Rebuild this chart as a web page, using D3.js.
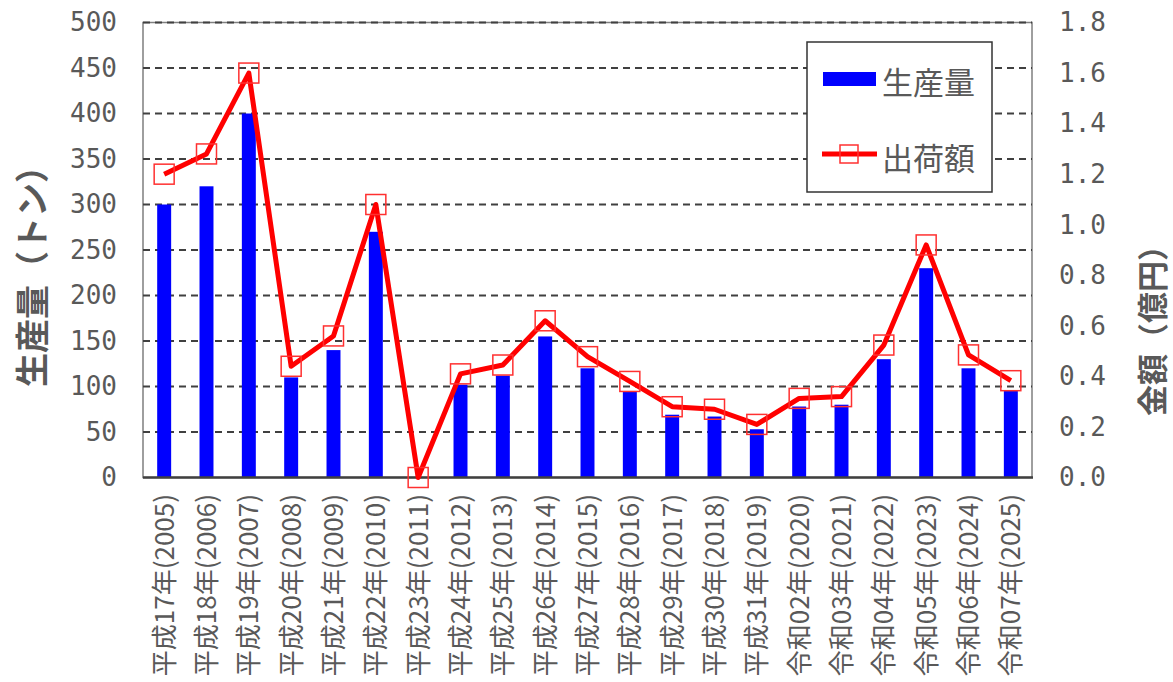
<!DOCTYPE html>
<html>
<head>
<meta charset="utf-8">
<script src="https://cdn.jsdelivr.net/npm/d3@7"></script>
<style>
  body { margin: 0; background: #fff; }
  svg text { font-family: "DejaVu Sans Mono", "Noto Sans CJK JP", monospace; fill: #595959; }
  .cjk { font-family: "Noto Sans CJK JP", sans-serif; }
</style>
</head>
<body>
<svg id="chart" width="1173" height="682"></svg>
<script>
// categories
var years = ["平成17年(2005)", "平成18年(2006)", "平成19年(2007)", "平成20年(2008)", "平成21年(2009)",
  "平成22年(2010)", "平成23年(2011)", "平成24年(2012)", "平成25年(2013)", "平成26年(2014)",
  "平成27年(2015)", "平成28年(2016)", "平成29年(2017)", "平成30年(2018)", "平成31年(2019)",
  "令和02年(2020)", "令和03年(2021)", "令和04年(2022)", "令和05年(2023)", "令和06年(2024)", "令和07年(2025)"];
// 生産量 (トン)
var production = [300, 320, 400, 110, 140, 270, 0, 102, 112, 155, 120, 94, 69, 67, 53, 78, 80, 130, 230, 120, 96];
// 出荷額 (億円)
var shipment = [1.2, 1.28, 1.6, 0.44, 0.56, 1.08, 0, 0.41, 0.445, 0.62, 0.478, 0.38, 0.28, 0.27, 0.21, 0.313, 0.32, 0.524, 0.92, 0.485, 0.383];
var leftTicks = [0, 50, 100, 150, 200, 250, 300, 350, 400, 450, 500];
var rightTicks = [0, 0.2, 0.4, 0.6, 0.8, 1.0, 1.2, 1.4, 1.6, 1.8];

var svg = d3.select("#chart");
var pLeft = 143, pRight = 1032, pTop = 22.5, pBottom = 477.5;

var x = d3.scaleBand().domain(years).range([pLeft, pRight]).paddingInner(0.67).paddingOuter(0.335);
var yL = d3.scaleLinear().domain([0, 500]).range([pBottom, pTop]);
var yR = d3.scaleLinear().domain([0, 1.8]).range([pBottom, pTop]);

// plot frame
svg.append("rect")
  .attr("x", pLeft).attr("y", pTop)
  .attr("width", pRight - pLeft).attr("height", pBottom - pTop)
  .attr("fill", "none").attr("stroke", "#7f7f7f").attr("stroke-width", 1.5);

// gridlines
svg.append("g").selectAll("line")
  .data(leftTicks.filter(function(d) { return d > 0; }))
  .join("line")
  .attr("x1", pLeft).attr("x2", pRight)
  .attr("y1", function(d) { return yL(d); })
  .attr("y2", function(d) { return yL(d); })
  .attr("stroke", "#404040").attr("stroke-width", 2)
  .attr("stroke-dasharray", "7,5");

// bars
svg.append("g").selectAll("rect")
  .data(production)
  .join("rect")
  .attr("x", function(d, i) { return x(years[i]); })
  .attr("y", function(d) { return yL(d); })
  .attr("width", x.bandwidth())
  .attr("height", function(d) { return pBottom - yL(d); })
  .attr("fill", "#0000ff");

// bottom axis line
svg.append("line")
  .attr("x1", pLeft).attr("x2", pRight + 1)
  .attr("y1", pBottom).attr("y2", pBottom)
  .attr("stroke", "#404040").attr("stroke-width", 2.5);

// left axis
var axL = svg.append("g").attr("transform", "translate(" + pLeft + ",0)")
  .call(d3.axisLeft(yL).tickValues(leftTicks).tickSize(0).tickPadding(26));
axL.select(".domain").remove();
axL.selectAll("text").attr("font-size", 26).attr("font-family", null);

// right axis
var axR = svg.append("g").attr("transform", "translate(" + pRight + ",0)")
  .call(d3.axisRight(yR).tickValues(rightTicks).tickSize(0).tickPadding(27).tickFormat(d3.format(".1f")));
axR.select(".domain").remove();
axR.selectAll("text").attr("font-size", 26).attr("font-family", null);

// line
var cx = function(i) { return x(years[i]) + x.bandwidth() / 2; };
var line = d3.line()
  .x(function(d, i) { return cx(i); })
  .y(function(d) { return yR(d); });
svg.append("path")
  .datum(shipment)
  .attr("d", line)
  .attr("fill", "none")
  .attr("stroke", "#ff0000")
  .attr("stroke-width", 5)
  .attr("stroke-linejoin", "round");

// markers
svg.append("g").selectAll("rect")
  .data(shipment)
  .join("rect")
  .attr("x", function(d, i) { return cx(i) - 10; })
  .attr("y", function(d) { return yR(d) - 10; })
  .attr("width", 20).attr("height", 20)
  .attr("fill", "none")
  .attr("stroke", "#ff3030").attr("stroke-width", 1.5);

// x labels
svg.append("g").selectAll("text")
  .data(years)
  .join("text")
  .attr("class", "cjk")
  .attr("transform", function(d) { return "translate(" + (x(d) + x.bandwidth() / 2 - 2) + ",494) rotate(-90)"; })
  .attr("text-anchor", "end")
  .attr("dominant-baseline", "central")
  .attr("font-size", 26)
  .text(function(d) { return d; });

// axis titles
svg.append("text")
  .attr("class", "cjk")
  .attr("transform", "translate(30,268) rotate(-90)")
  .attr("text-anchor", "middle")
  .attr("dominant-baseline", "central")
  .attr("font-size", 34).attr("font-weight", "bold")
  .text("生産量（トン）");
svg.append("text")
  .attr("class", "cjk")
  .attr("transform", "translate(1150,323) rotate(-90)")
  .attr("text-anchor", "middle")
  .attr("dominant-baseline", "central")
  .attr("font-size", 31).attr("font-weight", "bold")
  .text("金額（億円）");

// legend
var lg = svg.append("g");
lg.append("rect")
  .attr("x", 807).attr("y", 42).attr("width", 185).attr("height", 150)
  .attr("fill", "#fff").attr("stroke", "#333").attr("stroke-width", 1.5);
lg.append("rect")
  .attr("x", 823).attr("y", 72).attr("width", 53).attr("height", 14)
  .attr("fill", "#0000ff");
lg.append("text").attr("class", "cjk")
  .attr("x", 882).attr("y", 80).attr("dominant-baseline", "central")
  .attr("font-size", 31).attr("fill", "#404040")
  .text("生産量");
lg.append("line")
  .attr("x1", 822).attr("x2", 877).attr("y1", 154).attr("y2", 154)
  .attr("stroke", "#ff0000").attr("stroke-width", 5);
lg.append("rect")
  .attr("x", 840).attr("y", 145).attr("width", 18).attr("height", 18)
  .attr("fill", "none").attr("stroke", "#ff3030").attr("stroke-width", 1.5);
lg.append("text").attr("class", "cjk")
  .attr("x", 882).attr("y", 156).attr("dominant-baseline", "central")
  .attr("font-size", 31).attr("fill", "#404040")
  .text("出荷額");
</script>
</body>
</html>
